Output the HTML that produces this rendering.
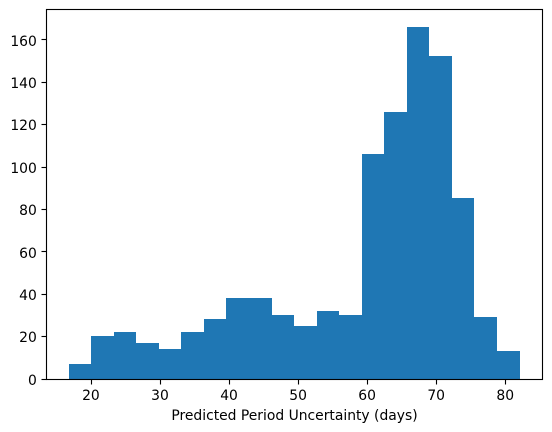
<!DOCTYPE html>
<html>
<head>
<meta charset="utf-8">
<style>
html,body{margin:0;padding:0;background:#fff;width:552px;height:432px;overflow:hidden}
svg{display:block}
text{font-family:"DejaVu Sans","Liberation Sans",sans-serif;font-size:13.89px;fill:#000}
</style>
</head>
<body>
<svg id="chart" width="552" height="432" viewBox="0 0 552 432" xmlns="http://www.w3.org/2000/svg">
  <rect width="552" height="432" fill="#fff"></rect>
  <g id="bars" shape-rendering="crispEdges"></g>
  <g id="axes"></g>
  <text x="294.5" y="420" text-anchor="middle">Predicted Period Uncertainty (days)</text>
</svg>
<script>
const binCounts = [7, 20, 22, 17, 14, 22, 28, 38, 38, 30, 25, 32, 30, 106, 126, 166, 152, 85, 29, 13];
const dataRange = [16.7, 82.0];
const xTicks = [20, 30, 40, 50, 60, 70, 80];
const yTicks = [0, 20, 40, 60, 80, 100, 120, 140, 160];

const NS = 'http://www.w3.org/2000/svg';
const plot = { left: 46.1, right: 542.1, top: 9.6, bottom: 379.2 };

const maxCount = Math.max.apply(null, binCounts);
const yMax = maxCount * 1.05;
const span = dataRange[1] - dataRange[0];
const xMin = dataRange[0] - span * 0.05;
const xMax = dataRange[1] + span * 0.05;

function xScale(v) {
  return plot.left + (v - xMin) / (xMax - xMin) * (plot.right - plot.left);
}
function yScale(v) {
  return plot.bottom - v / yMax * (plot.bottom - plot.top);
}
function make(tag, attrs, parent) {
  const el = document.createElementNS(NS, tag);
  Object.keys(attrs).forEach(function (k) { el.setAttribute(k, attrs[k]); });
  parent.appendChild(el);
  return el;
}

const barsGroup = document.getElementById('bars');
const axesGroup = document.getElementById('axes');
const binWidth = span / binCounts.length;
const baseY = Math.floor(plot.bottom);

binCounts.forEach(function (count, i) {
  const x0 = Math.round(xScale(dataRange[0] + i * binWidth));
  const x1 = Math.round(xScale(dataRange[0] + (i + 1) * binWidth));
  const y = Math.floor(yScale(count));
  const bar = make('rect', { x: x0, y: y, width: x1 - x0, height: baseY - y, fill: '#1f77b4' }, barsGroup);
  
  
});

xTicks.forEach(function (v) {
  const raw = xScale(v);
  const x = Math.floor(raw) + 0.5;
  const tick = make('line', { x1: x, x2: x, y1: baseY + 0.5, y2: baseY + 5.5, stroke: '#000', 'stroke-width': 1.11 }, axesGroup);
  
  
  const label = make('text', { x: raw - 0.5, y: 400, 'text-anchor': 'middle' }, axesGroup);
  label.textContent = v;
  
  
});

yTicks.forEach(function (v) {
  const raw = yScale(v);
  const y = Math.floor(raw) + 0.5;
  const tick = make('line', { x1: Math.floor(plot.left) - 4.5, x2: Math.floor(plot.left) + 0.5, y1: y, y2: y, stroke: '#000', 'stroke-width': 1.11 }, axesGroup);
  
  
  const label = make('text', { x: plot.left - 9.3, y: Math.round(raw + 5.7), 'text-anchor': 'end' }, axesGroup);
  label.textContent = v;
  
  
});

const frameX = Math.floor(plot.left) + 0.5;
const frameY = Math.floor(plot.top) + 0.5;
const frame = make('rect', { x: frameX, y: frameY, width: Math.floor(plot.right) + 0.5 - frameX, height: baseY + 0.5 - frameY, fill: 'none', stroke: '#000', 'stroke-width': 1.11 }, axesGroup);


</script>
</body>
</html>
